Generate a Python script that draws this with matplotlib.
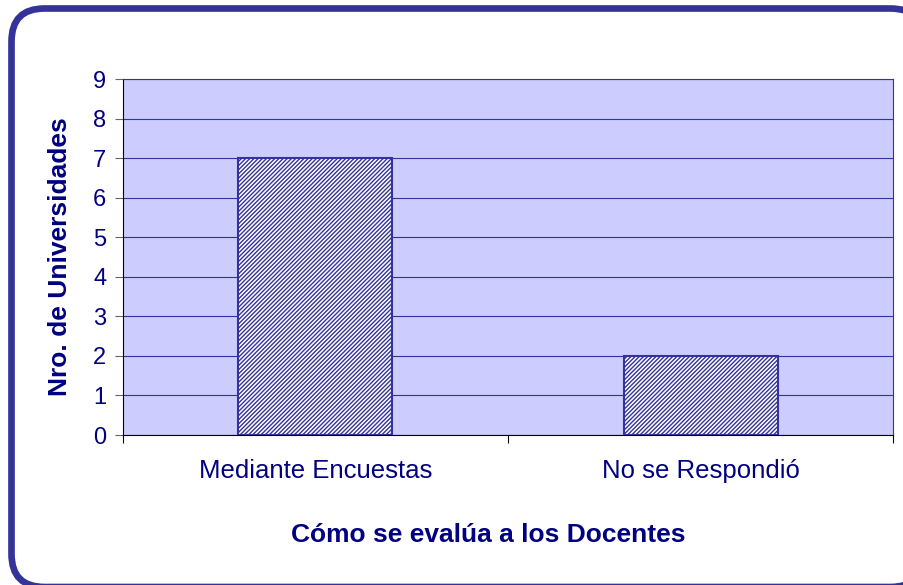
import matplotlib.pyplot as plt
from matplotlib.patches import FancyBboxPatch

plt.rcParams['font.family'] = ['Liberation Sans', 'DejaVu Sans']
plt.rcParams['hatch.color'] = '#333399'
plt.rcParams['hatch.linewidth'] = 1.0

categories = ["Mediante Encuestas", "No se Respondió"]
values = [7, 2]
y_ticks = list(range(0, 10))

text_color = "#000080"
line_color = "#333399"

fig = plt.figure(figsize=(9.04, 5.85), dpi=100)

# marco redondeado (en pulgadas)
frame = FancyBboxPatch((0.115, -0.02), 9.12, 5.785,
                       boxstyle="round,pad=0,rounding_size=0.33",
                       transform=fig.dpi_scale_trans, facecolor="white",
                       edgecolor=line_color, linewidth=4.8, zorder=-1)
fig.patches.append(frame)

ax = fig.add_axes([123 / 904, 1 - 435 / 585, 770 / 904, 356 / 585])
ax.set_facecolor("#CCCCFF")

x = range(len(categories))
ax.bar(x, values, width=0.4, color="white", edgecolor=line_color,
       hatch="////////", linewidth=1.5, zorder=3)

ax.set_xlim(-0.5, 1.5)
ax.set_ylim(0, 9)
ax.set_yticks(y_ticks)
ax.set_xticks([-0.5, 0.5, 1.5], minor=False)
ax.set_xticklabels([])
ax.set_xticks(list(x), minor=True)
ax.set_xticklabels(categories, minor=True)
ax.tick_params(axis="x", which="minor", length=0, pad=17, labelsize=18.5,
               labelcolor=text_color)
ax.tick_params(axis="x", which="major", length=6, direction="out", color="black")
ax.tick_params(axis="y", length=6, color="#666666", labelsize=17,
               labelcolor=text_color, pad=6)

ax.grid(axis="y", color=line_color, linewidth=0.8, zorder=0)
ax.set_axisbelow(True)
for side in ["top", "right"]:
    ax.spines[side].set_color(line_color)
ax.spines["left"].set_color("black")
ax.spines["bottom"].set_color("black")

ax.set_ylabel("Nro. de Universidades", fontsize=19, fontweight="bold",
              color=text_color, va="center")
ax.yaxis.set_label_coords(-0.082, 0.5)
ax.set_xlabel("Cómo se evalúa a los Docentes", fontsize=19, fontweight="bold",
              color=text_color, va="center")
ax.xaxis.set_label_coords(0.474, -0.281)

fig.savefig("out.png", dpi=100)
